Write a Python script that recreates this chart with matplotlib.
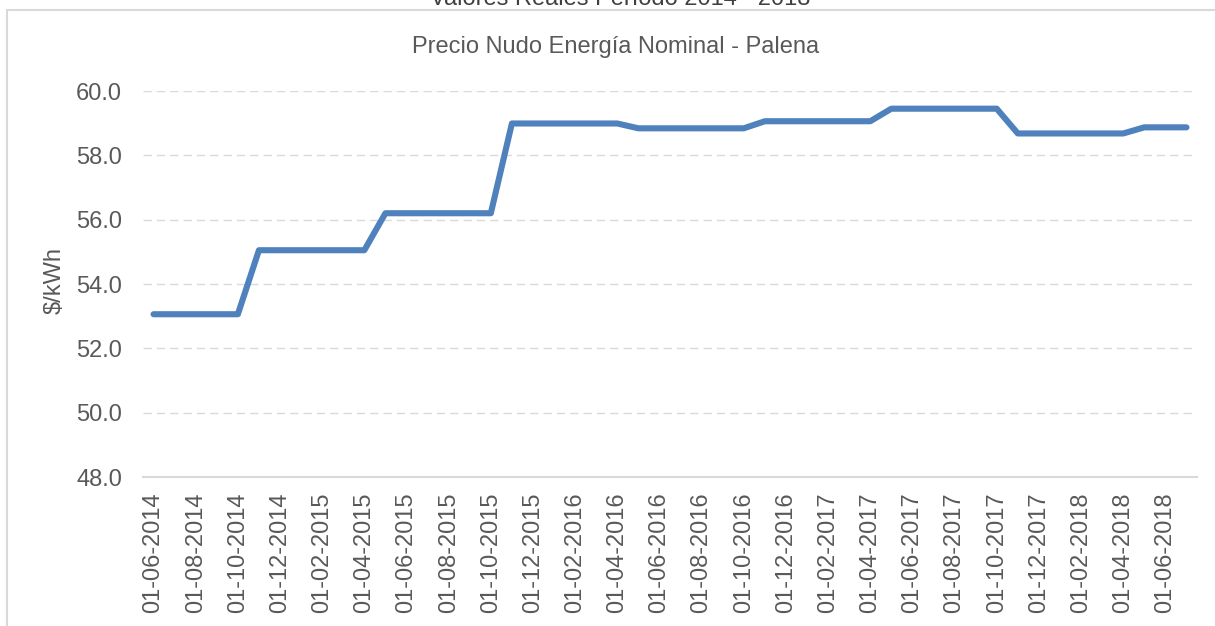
import pandas as pd
import matplotlib
matplotlib.use("Agg")
import matplotlib.pyplot as plt
from matplotlib.patches import Rectangle

plt.rcParams["font.family"] = ["Liberation Sans", "DejaVu Sans"]

# monthly dates 06-2014 .. 07-2018
months = [d.strftime("%d-%m-%Y") for d in pd.date_range("2014-06-01", "2018-07-01", freq="MS")]

precio = [
    53.06, 53.06, 53.06, 53.06, 53.06,
    55.05, 55.05, 55.05, 55.05, 55.05, 55.05,
    56.20, 56.20, 56.20, 56.20, 56.20, 56.20,
    58.99, 58.99, 58.99, 58.99, 58.99, 58.99,
    58.84, 58.84, 58.84, 58.84, 58.84, 58.84,
    59.06, 59.06, 59.06, 59.06, 59.06, 59.06,
    59.45, 59.45, 59.45, 59.45, 59.45, 59.45,
    58.68, 58.68, 58.68, 58.68, 58.68, 58.68,
    58.87, 58.87, 58.87,
]

y_ticks = [48, 50, 52, 54, 56, 58, 60]

gray = "#595959"
grid_gray = "#d9d9d9"

W, H = 1215, 626
fig = plt.figure(figsize=(W / 100, H / 100), dpi=100)
ax = fig.add_axes([143 / W, 1 - 477 / H, (1197 - 143) / W, (477 - 91) / H])

x = list(range(len(months)))
ax.plot(x, precio, color="#4f81bd", lw=4.4, solid_capstyle="round",
        solid_joinstyle="round", zorder=3)

ax.set_xlim(-0.5, len(months) - 0.5)
ax.set_ylim(48, 60)
ax.set_yticks(y_ticks)
ax.set_yticklabels([f"{v:.1f}" for v in y_ticks])
ax.set_xticks(x[::2])
ax.set_xticklabels(months[::2], rotation=90)

for v in y_ticks[1:]:
    ax.axhline(v, color=grid_gray, lw=1, linestyle=(0, (6, 3.6)), zorder=1)

for s in ["top", "right", "left"]:
    ax.spines[s].set_visible(False)
ax.spines["bottom"].set_color(grid_gray)
ax.spines["bottom"].set_linewidth(1.5)

ax.tick_params(axis="both", length=0, labelsize=17, colors=gray)
ax.tick_params(axis="y", pad=15)
ax.tick_params(axis="x", pad=11)

# y axis title
fig.text(55 / W, 1 - 280 / H, "$/kWh", rotation=90, ha="center", va="center",
         fontsize=17, color=gray)

# chart border
fig.patches.append(Rectangle((7 / W, -0.1), 1.2, 1 - 10 / H + 0.1,
                             transform=fig.transFigure, fill=False,
                             edgecolor=grid_gray, lw=1.5))

fig.text(616 / W, 1 - 47 / H, "Precio Nudo Energía Nominal - Palena",
         ha="center", va="center", fontsize=17, color=gray)
fig.text(620 / W, 1 - 5 / H, "Valores Reales Período 2014 - 2018",
         ha="center", va="baseline", fontsize=17, color="#404040")

fig.savefig("out.png", dpi=100)
